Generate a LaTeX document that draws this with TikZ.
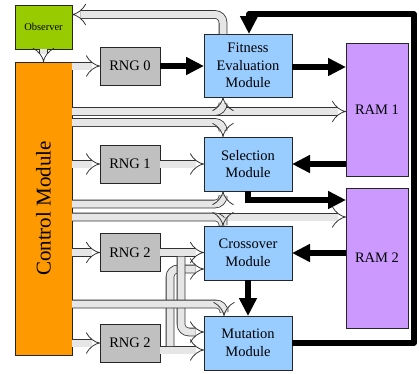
\documentclass[tikz,border=0pt]{standalone}
\usepackage{fontspec}
\setmainfont{Liberation Serif}
\newfontfamily\tnr{Liberation Serif}
\usetikzlibrary{arrows.meta}
\definecolor{obsgreen}{HTML}{99CC00}
\definecolor{ctrlorange}{HTML}{FF9900}
\definecolor{rnggray}{HTML}{C0C0C0}
\definecolor{modblue}{HTML}{99CCFF}
\definecolor{rampurple}{HTML}{CC99FF}
\definecolor{bandfill}{HTML}{E6E6E6}
\definecolor{bandedge}{HTML}{333333}
\begin{document}
\begin{tikzpicture}[x=1pt,y=-1pt,
  box/.style={draw=black!85, line width=0.9pt, inner sep=0pt, outer sep=0pt, align=center,
    font=\tnr\fontsize{14.5}{17.5}\selectfont},
  obsbox/.style={box, fill=obsgreen, minimum width=57pt, minimum height=44pt, font=\tnr\fontsize{10.5}{12}\selectfont},
  ctrlbox/.style={box, fill=ctrlorange, minimum width=57pt, minimum height=293pt},
  rngbox/.style={box, fill=rnggray, minimum width=60pt, minimum height=38pt},
  modbox/.style={box, fill=modblue, minimum width=88pt, minimum height=54pt},
  rambox/.style={box, fill=rampurple, minimum width=62pt},
  hband/.style={draw=bandedge, double=bandfill, line width=0.8pt, double distance=7pt, rounded corners=8pt, -{Implies}},
  blk/.style={draw=black, line width=5.5pt, -{Triangle[length=18pt,width=17pt]}}
]
\useasboundingbox (0,0) rectangle (419,373);

% nodes
\node[obsbox] (obs) at (43.5,27) {Observer};
\node[ctrlbox] (ctrl) at (43.5,208.5) {};
\node[rotate=90, font=\tnr\fontsize{21}{24}\selectfont] (ctrltxt) at (ctrl.center) {Control Module};
\node[rngbox] (rng0) at (130,66) {RNG 0};
\node[rngbox] (rng1) at (130,164) {RNG 1};
\node[rngbox] (rng2a) at (130,252.5) {RNG 2};
\node[rngbox] (rng2b) at (130,343) {RNG 2};
\node[modbox, minimum height=63pt] (fit) at (248,65.5) {Fitness\\Evaluation\\Module};
\node[modbox] (sel) at (248,164) {Selection\\Module};
\node[modbox] (cro) at (248,253) {Crossover\\Module};
\node[modbox] (mut) at (248,343) {Mutation\\Module};
\node[rambox, minimum height=133pt] (ram1) at (377,109.5) {RAM 1};
\node[rambox, minimum height=140pt] (ram2) at (377,258) {RAM 2};

\coordinate (tr) at (414,14);
\coordinate (tl) at (249,14);
\coordinate (br) at (414,343);
\coordinate (otl) at (223,14.5);

% hollow bands
\draw[hband] (fit.north -| otl) -- (otl) -- (obs.east |- otl);
\draw[hband] (obs.south) -- (ctrl.north);
\draw[hband] (ctrl.east |- rng0.west) -- (rng0.west);

\draw[hband] (ctrl.east |- 0,111.5) -- (ram1.west |- 0,111.5);
\draw[hband] (ctrl.east |- 0,111.5) -| (223,0 |- fit.south);
\draw[hband] (ctrl.east |- 0,122.5) -| (223,0 |- sel.north);

\draw[hband] (ctrl.east |- rng1.west) -- (rng1.west);
\draw[hband] (rng1.east) -- (sel.west |- rng1.east);

\draw[hband] (ctrl.east |- 0,204) -| (223,0 |- sel.south);
\draw[hband] (ctrl.east |- 0,217) -- (ram2.west |- 0,217);
\draw[hband] (ctrl.east |- 0,217) -| (223,0 |- cro.north);

\draw[hband] (ctrl.east |- rng2a.west) -- (rng2a.west);
\draw[hband] (rng2a.east) -- (cro.west |- rng2a.east);
\draw[hband] (ctrl.east |- rng2b.west) -- (rng2b.west);
\draw[hband] (rng2b.east |- 0,350) -- (mut.west |- 0,350);

\draw[hband] (170,346) -- (170,269) -- (cro.west |- 0,269);
\draw[hband] (181,256.5) -- (181,332) -- (mut.west |- 0,332);

\draw[hband] (ctrl.east |- 0,304) -| (224,0 |- mut.north);

% black arrows
\draw[blk] (rng0.east) -- (fit.west |- rng0.east);
\draw[blk] (fit.east |- 0,67) -- (ram1.west |- 0,67);
\draw[blk] (ram1.west |- sel.east) -- (sel.east);
\draw[blk] (sel.south) |- (ram2.west |- 0,200);
\draw[blk] (ram2.west |- cro.east) -- (cro.east);
\draw[blk] (cro.south) -- (mut.north);
\draw[blk, line join=round] (mut.east |- br) -- (br) -- (tr) -- (tl) -- (fit.north -| tl);
\end{tikzpicture}
\end{document}
